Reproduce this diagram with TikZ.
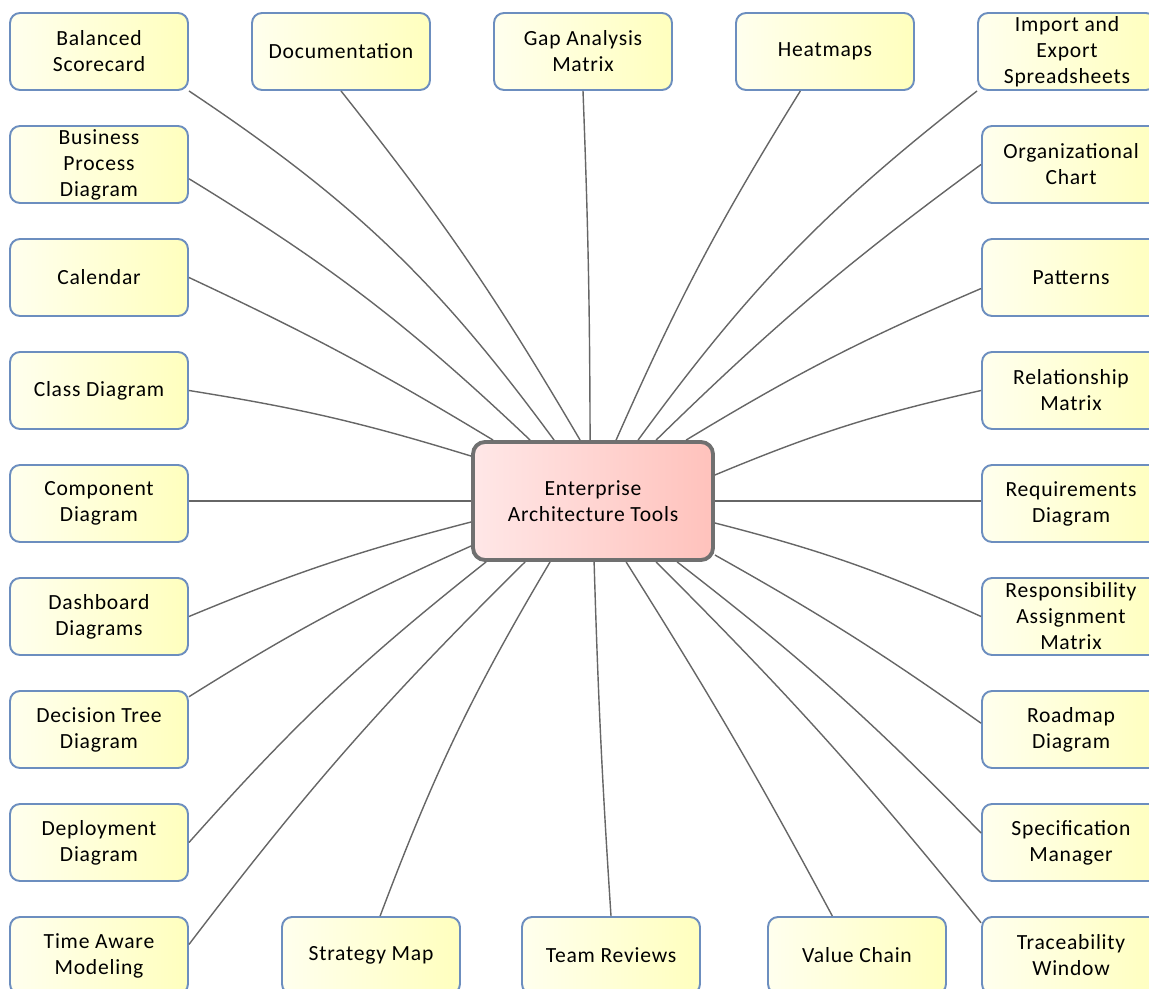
\documentclass[tikz,border=0pt]{standalone}
\usepackage{fontspec}
\setmainfont[LetterSpace=3.5]{Carlito}
\usepackage{xcolor}
\usepackage{tikz}
\usetikzlibrary{calc}
\usetikzlibrary{shapes,positioning}
\definecolor{boxblue}{RGB}{108,142,191}
\definecolor{boxleft}{RGB}{255,255,238}
\definecolor{boxright}{RGB}{255,255,190}
\definecolor{coreleft}{RGB}{255,231,231}
\definecolor{coreright}{RGB}{255,194,188}
\definecolor{coreline}{RGB}{112,112,112}
\definecolor{linkgray}{RGB}{102,102,102}
\tikzset{
	tool/.style={rectangle,rounded corners=0.2cm,draw=boxblue,line width=1.1pt,left color=boxleft,right color=boxright,minimum width=3.56cm,minimum height=1.54cm,inner sep=0pt,align=center,font=\fontsize{12.3}{14.8}\selectfont},
	core/.style={rectangle,rounded corners=0.24cm,draw=coreline,line width=2.2pt,left color=coreleft,right color=coreright,minimum width=4.8cm,minimum height=2.36cm,inner sep=0pt,align=center,font=\fontsize{12.3}{14.8}\selectfont},
	link/.style={draw=linkgray,line width=0.8pt}
}

\begin{document}
\begin{tikzpicture}[x=0.02cm,y=-0.02cm]
			\useasboundingbox (0,0) rectangle (1149,989);
			\node[core] (ea) at (593,501) {Enterprise\\Architecture Tools};
			\node[tool] (bs) at (99,51.5) {Balanced\\Scorecard};
			\node[tool] (bp) at (99,164.5) {Business\\Process\\Diagram};
			\node[tool] (cal) at (99,277.5) {Calendar};
			\node[tool] (cls) at (99,390.5) {Class Diagram};
			\node[tool] (cmp) at (99,503.5) {Component\\Diagram};
			\node[tool] (dsh) at (99,616.5) {Dashboard\\Diagrams};
			\node[tool] (dt) at (99,729.5) {Decision Tree\\Diagram};
			\node[tool] (dpl) at (99,842.5) {Deployment\\Diagram};
			\node[tool] (ta) at (99,955.5) {Time Aware\\Modeling};
			\node[tool] (doc) at (341,51.5) {Documentation};
			\node[tool] (gap) at (583,51.5) {Gap Analysis\\Matrix};
			\node[tool] (hm) at (825,51.5) {Heatmaps};
			\node[tool] (imp) at (1067,51.5) {Import and\\Export\\Spreadsheets};
			\node[tool] (org) at (1071,164.5) {Organizational\\Chart};
			\node[tool] (pat) at (1071,277.5) {Patterns};
			\node[tool] (rel) at (1071,390.5) {Relationship\\Matrix};
			\node[tool] (req) at (1071,503.5) {Requirements\\Diagram};
			\node[tool] (ram) at (1071,616.5) {Responsibility\\Assignment\\Matrix};
			\node[tool] (rm) at (1071,729.5) {Roadmap\\Diagram};
			\node[tool] (spc) at (1071,842.5) {Specification\\Manager};
			\node[tool] (tw) at (1071,955.5) {Traceability\\Window};
			\node[tool] (sm) at (371,955.5) {Strategy Map};
			\node[tool] (tr) at (611,955.5) {Team Reviews};
			\node[tool] (vc) at (857,955.5) {Value Chain};

			\draw[link] (bs.south east) to[bend left=10] ($(ea.north west)+(83,0)$);
			\draw[link] (bp.-9) to[bend left=6] ($(ea.north west)+(59,0)$);
			\draw[link] (cal.east) to[bend left=3] ($(ea.north west)+(22,0)$);
			\draw[link] (cls.east) to[bend left=4] ($(ea.north west)+(0,16)$);
			\draw[link] (ea.west -| cmp.east) -- (ea.west);
			\draw[link] (dsh.east) to[bend left=4] ($(ea.west)+(0,21)$);
			\draw[link] (dt.20) to[bend left=4] ($(ea.west)+(0,45)$);
			\draw[link] (dpl.east) to[bend left=5] ($(ea.south west)+(15,0)$);
			\draw[link] (ta.7) to[bend left=4] ($(ea.south west)+(54,0)$);
			\draw[link] (doc.south) to[bend left=4] ($(ea.north west)+(109,0)$);
			\draw[link] (gap.south) to[bend left=1] ($(ea.north west)+(119,0)$);
			\draw[link] (hm.238) to[bend right=4] ($(ea.north west)+(145,0)$);
			\draw[link] (imp.south west) to[bend right=8] ($(ea.north west)+(167,0)$);
			\draw[link] (org.west) to[bend right=4] ($(ea.north west)+(185,0)$);
			\draw[link] (pat.187) to[bend right=4] ($(ea.north west)+(215,0)$);
			\draw[link] (rel.west) to[bend right=5] ($(ea.east)+(0,-26)$);
			\draw[link] (ea.east -| req.west) -- (ea.east);
			\draw[link] (ram.west) to[bend right=5] ($(ea.east)+(0,22)$);
			\draw[link] (rm.176) to[bend right=3] ($(ea.east)+(0,54)$);
			\draw[link] (spc.174) to[bend right=4] ($(ea.south west)+(206,0)$);
			\draw[link] (tw.160) to[bend right=3] ($(ea.south west)+(185,0)$);
			\draw[link] (sm.77) to[bend left=5] ($(ea.south west)+(79,0)$);
			\draw[link] (tr.north) to[bend left=1] ($(ea.south west)+(123,0)$);
			\draw[link] (vc.122) to[bend right=2] ($(ea.south west)+(155,0)$);
		\end{tikzpicture}
\end{document}
